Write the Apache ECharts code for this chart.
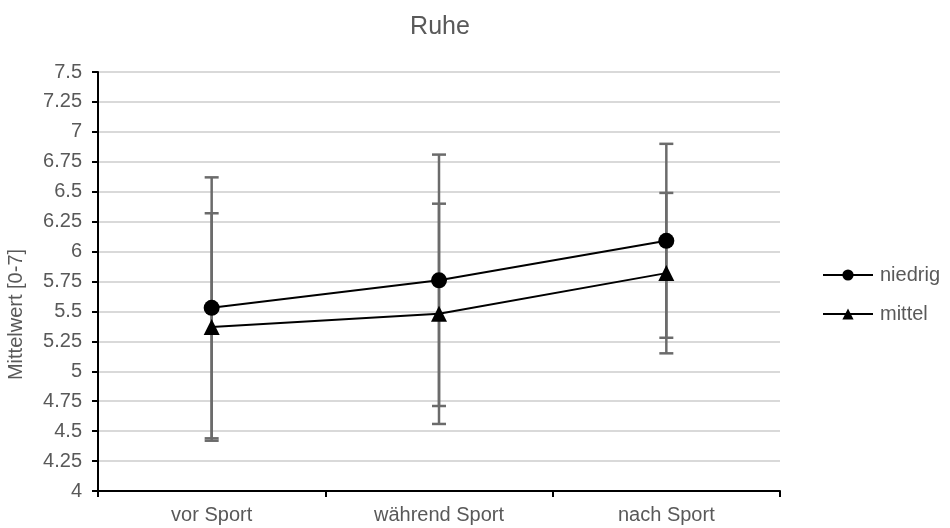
<!DOCTYPE html>
<html>
<head>
<meta charset="utf-8">
<script src="https://cdn.jsdelivr.net/npm/echarts@6/dist/echarts.min.js"></script>
<style>
  html, body { margin: 0; padding: 0; background: #fff; }
  #chart { width: 950px; height: 528px; }
</style>
</head>
<body>
<div id="chart"></div>
<script>
const categories = ["vor Sport", "während Sport", "nach Sport"];
const niedrig = [5.53, 5.76, 6.09];
const niedrigErr = [1.09, 1.05, 0.81];
const mittel = [5.37, 5.48, 5.82];
const mittelErr = [0.95, 0.92, 0.67];

function errorData(values, errs) {
    return values.map((v, i) => [i, v - errs[i], v + errs[i]]);
}

function renderErrorBar(params, api) {
    const lo = api.coord([api.value(0), api.value(1)]);
    const hi = api.coord([api.value(0), api.value(2)]);
    const half = 7;
    const style = { stroke: "#6b6b6b", lineWidth: 2.5 };
    return {
        type: "group",
        children: [
            { type: "line", shape: { x1: lo[0], y1: lo[1], x2: hi[0], y2: hi[1] }, style },
            { type: "line", shape: { x1: lo[0] - half, y1: lo[1], x2: lo[0] + half, y2: lo[1] }, style },
            { type: "line", shape: { x1: hi[0] - half, y1: hi[1], x2: hi[0] + half, y2: hi[1] }, style },
        ],
    };
}

const textColor = "#595959";
const fontFamily = "'Liberation Sans', Arial, sans-serif";

const chart = echarts.init(document.getElementById("chart"));
chart.setOption({
    animation: false,
    textStyle: { fontFamily },
    title: {
        text: "Ruhe",
        left: 435,
        top: 10,
        textAlign: "center",
        textStyle: { color: textColor, fontSize: 25, fontWeight: "normal", fontFamily },
    },
    grid: { left: 98, right: 170, top: 72, bottom: 37, containLabel: false, outerBoundsMode: "none" },
    legend: {
        orient: "vertical",
        left: 817,
        top: 260,
        itemWidth: 50,
        itemHeight: 14,
        itemGap: 19,
        data: ["niedrig", "mittel"],
        textStyle: { color: textColor, fontSize: 20, fontFamily, padding: [0, 0, 0, 2] },
    },
    xAxis: {
        type: "category",
        data: categories,
        axisLine: { lineStyle: { color: "#000", width: 2 } },
        axisTick: { show: true, length: 6, lineStyle: { color: "#000", width: 2 } },
        axisLabel: { color: textColor, fontSize: 20, margin: 14, fontFamily },
        splitLine: { show: false },
    },
    yAxis: {
        type: "value",
        min: 4,
        max: 7.5,
        interval: 0.25,
        name: "Mittelwert [0-7]",
        nameLocation: "middle",
        nameGap: 72,
        nameRotate: 90,
        nameTextStyle: { color: textColor, fontSize: 20, fontFamily, padding: [0, 66, 0, 0] },
        axisLine: { show: true, lineStyle: { color: "#000", width: 2 } },
        axisTick: { show: true, length: 6, lineStyle: { color: "#000", width: 2 } },
        axisLabel: { color: textColor, fontSize: 20, margin: 16, fontFamily },
        splitLine: { lineStyle: { color: "#d9d9d9", width: 2 } },
    },
    series: [
        {
            type: "custom",
            name: "errNiedrig",
            renderItem: renderErrorBar,
            data: errorData(niedrig, niedrigErr),
            encode: { x: 0, y: [1, 2] },
            z: 1,
            silent: true,
        },
        {
            type: "custom",
            name: "errMittel",
            renderItem: renderErrorBar,
            data: errorData(mittel, mittelErr),
            encode: { x: 0, y: [1, 2] },
            z: 1,
            silent: true,
        },
        {
            type: "line",
            name: "niedrig",
            data: niedrig,
            symbol: "circle",
            symbolSize: 16,
            lineStyle: { color: "#000", width: 2 },
            itemStyle: { color: "#000" },
            z: 3,
        },
        {
            type: "line",
            name: "mittel",
            data: mittel,
            symbol: "triangle",
            symbolSize: 16,
            lineStyle: { color: "#000", width: 2 },
            itemStyle: { color: "#000" },
            z: 3,
        },
    ],
});
</script>
</body>
</html>
